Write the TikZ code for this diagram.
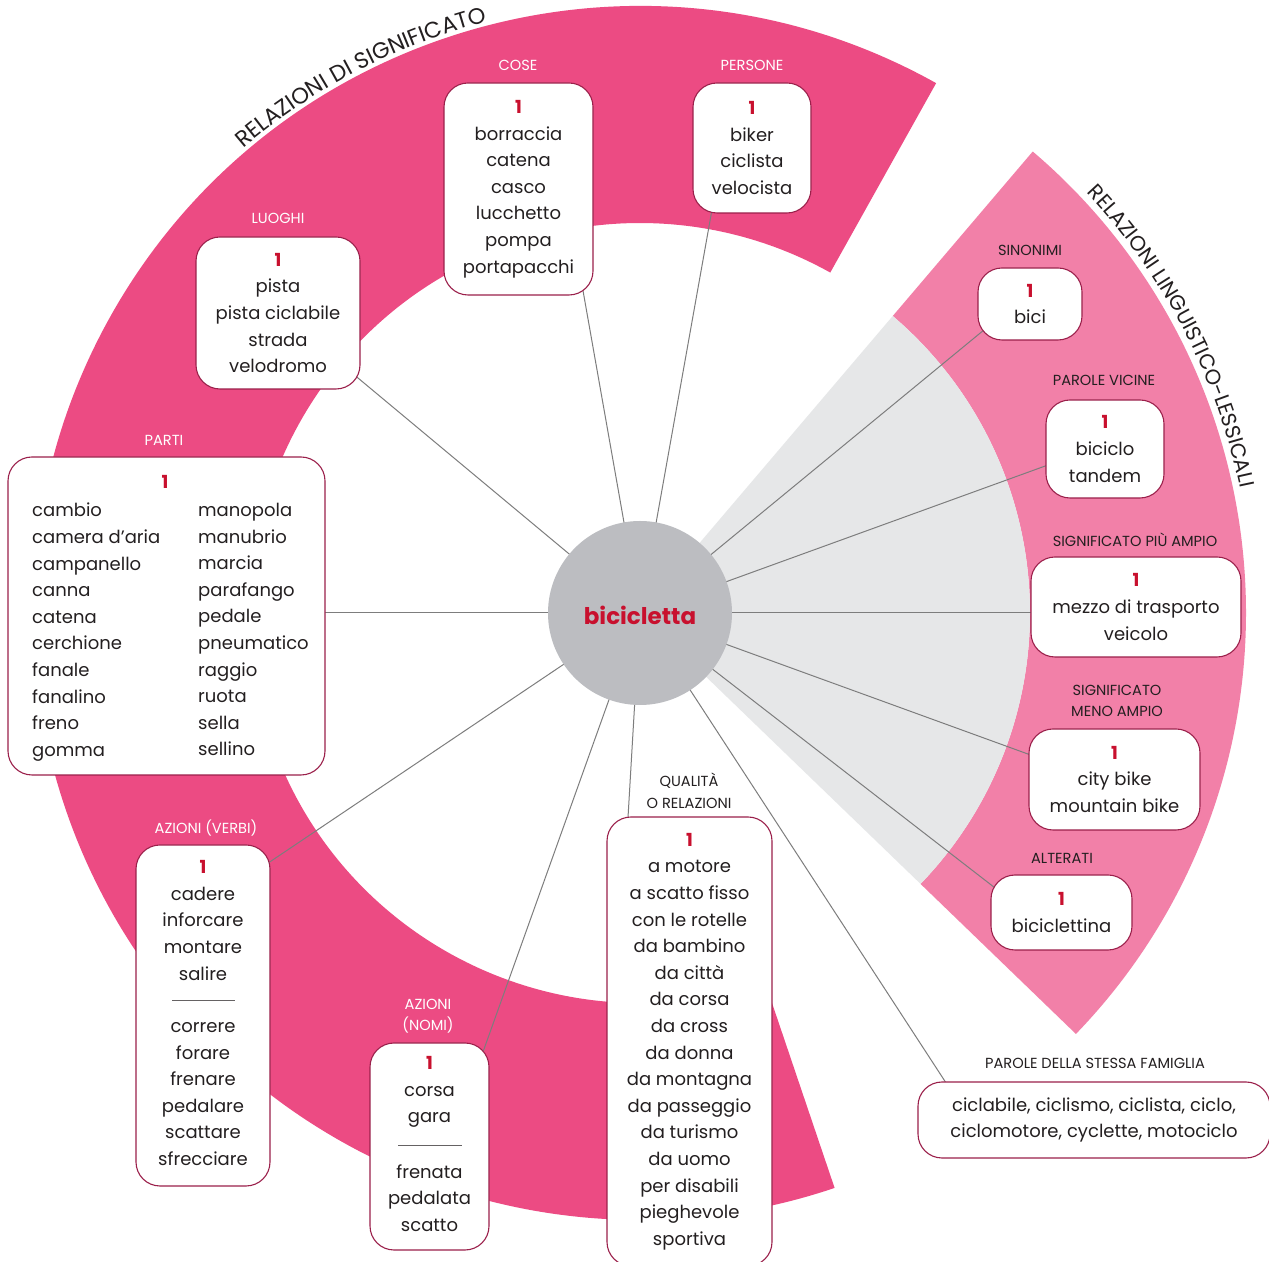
\documentclass[tikz,border=0pt]{standalone}
\usepackage{fontspec}
\setmainfont{Poppins}
\usetikzlibrary{decorations.text}
\definecolor{dpink}{RGB}{236,75,131}
\definecolor{lpink}{RGB}{242,128,168}
\definecolor{lgrey}{RGB}{230,231,232}
\definecolor{cgrey}{RGB}{188,189,193}
\definecolor{wred}{RGB}{200,16,46}
\definecolor{bord}{RGB}{155,32,75}
\definecolor{txt}{RGB}{35,31,32}
\definecolor{lnk}{RGB}{125,125,125}
\pgfdeclarelayer{sectors}
\pgfdeclarelayer{links}
\pgfsetlayers{sectors,links,main}
\newcommand\nummark{\textcolor{wred}{\bfseries 1}}
\begin{document}
\begin{tikzpicture}[x=1pt,y=1pt,
  box/.style={draw=bord, fill=white, line width=1.1pt, rounded corners=24pt, align=center, inner sep=0pt, text=txt, font=\fontsize{18}{26.6}\selectfont},
  words/.style={align=center, inner sep=0pt, text=txt, font=\fontsize{18}{26.6}\selectfont},
  cat/.style={align=center, inner sep=0pt, font=\fontsize{14.6}{21.5}\selectfont},
  catw/.style={cat, text=white},
  catd/.style={cat, text=txt},
  link/.style={draw=lnk, line width=1pt},
  sepline/.style={draw=txt!70, line width=0.8pt}
]
\useasboundingbox (0,0) rectangle (1269,1261);

% sectors
\begin{pgfonlayer}{sectors}
\fill[white] (0,0) rectangle (1269,1261);
\begin{scope}[shift={(640,648)}]
\fill[dpink] (60.8:607) arc[start angle=60.8,end angle=288.7,radius=607] -- (288.7:390) arc[start angle=288.7,end angle=60.8,radius=390] -- cycle;
\fill[lpink] (-44:606) arc[start angle=-44,end angle=49.6,radius=606] -- (49.6:390) arc[start angle=49.6,end angle=-44,radius=390] -- cycle;
\fill[lgrey] (0,0) -- (-44:390) arc[start angle=-44,end angle=49.6,radius=390] -- cycle;
\path[decorate,decoration={text along path,text align=center,text color=txt,text={|\fontsize{22.5}{22.5}\selectfont|RELAZIONI DI SIGNIFICATO}}] (140:611) arc[start angle=140,end angle=95,radius=611];
\path[decorate,decoration={text along path,text align=center,text color=txt,text={|\fontsize{21}{21}\selectfont|RELAZIONI LINGUISTICO-LESSICALI}}] (58:613) arc[start angle=58,end angle=-3,radius=613];
\end{scope}
\end{pgfonlayer}

% centre
\node[circle, fill=cgrey, minimum size=184pt, inner sep=0pt] (c) at (640,648) {};
\node[text=wred, font=\fontsize{23}{23}\selectfont\bfseries] (ct) at (640,646) {bicicletta};

% link end points
\coordinate (e-cose) at (582,976);
\coordinate (e-pers) at (713,1057);
\coordinate (e-luog) at (352,888);
\coordinate (e-parti) at (320,648);
\coordinate (e-verbi) at (263,394.5);
\coordinate (e-nomi) at (481,203.5);
\coordinate (e-qual) at (627.5,435);
\coordinate (e-fam) at (950,172);
\coordinate (e-sin) at (990,936);
\coordinate (e-vic) at (1053.5,798);
\coordinate (e-piu) at (1036,648);
\coordinate (e-meno) at (1037.5,503.5);
\coordinate (e-alt) at (999,370);

\begin{pgfonlayer}{links}
\foreach \e in {e-cose,e-pers,e-luog,e-parti,e-verbi,e-nomi,e-qual,e-fam,e-sin,e-vic,e-piu,e-meno,e-alt}
  \draw[link] (c.center) -- (\e);
\end{pgfonlayer}

% boxes
\node[box, minimum width=149pt, minimum height=212pt] (cose) at (518.5,1072) {\nummark\\borraccia\\catena\\casco\\lucchetto\\pompa\\portapacchi};
\node[box, minimum width=118pt, minimum height=130pt] (pers) at (752,1113) {\nummark\\biker\\ciclista\\velocista};
\node[box, minimum width=164pt, minimum height=152pt] (luog) at (278,948) {\nummark\\pista\\pista ciclabile\\strada\\velodromo};

\node[box, minimum width=317pt, minimum height=318pt] (parti) at (166.5,645) {};
\node[text=wred, font=\fontsize{18}{26.6}\selectfont\bfseries, inner sep=0pt] (parti1) at (165,779) {1};
\node[words, anchor=north west, align=left] (partiL) at (32,758) {cambio\\camera d’aria\\campanello\\canna\\catena\\cerchione\\fanale\\fanalino\\freno\\gomma};
\node[words, anchor=north west, align=left] (partiR) at (198,758) {manopola\\manubrio\\marcia\\parafango\\pedale\\pneumatico\\raggio\\ruota\\sella\\sellino};

\node[box, minimum width=134pt, minimum height=341pt] (verbi) at (203,245.5) {};
\node[words] (verbiA) at (203,340.5) {\nummark\\cadere\\inforcare\\montare\\salire};
\draw[sepline] (172,261) -- (235,261);
\node[words] (verbiB) at (203,167) {correre\\forare\\frenare\\pedalare\\scattare\\sfrecciare};

\node[box, minimum width=119pt, minimum height=207pt] (nomi) at (429.5,114.5) {};
\node[words] (nomiA) at (429.5,169) {\nummark\\corsa\\gara};
\draw[sepline] (398,116) -- (462,116);
\node[words] (nomiB) at (429.5,63) {frenata\\pedalata\\scatto};

\node[box, minimum width=165pt, minimum height=449pt] (qual) at (689.5,219.5) {\nummark\\a motore\\a scatto fisso\\con le rotelle\\da bambino\\da città\\da corsa\\da cross\\da donna\\da montagna\\da passeggio\\da turismo\\da uomo\\per disabili\\pieghevole\\sportiva};

\node[box, minimum width=104pt, minimum height=72pt] (sin) at (1030,957) {\nummark\\bici};
\node[box, minimum width=118pt, minimum height=98pt] (vic) at (1105,812) {\nummark\\biciclo\\tandem};
\node[box, minimum width=210pt, minimum height=100pt] (piu) at (1136,654) {\nummark\\mezzo di trasporto\\veicolo};
\node[box, minimum width=171pt, minimum height=101pt] (meno) at (1114.5,481.5) {\nummark\\city bike\\mountain bike};
\node[box, minimum width=141pt, minimum height=75pt] (alt) at (1061.5,348.5) {\nummark\\biciclettina};
\node[box, minimum width=352pt, minimum height=76pt] (fam) at (1094,141) {ciclabile, ciclismo, ciclista, ciclo,\\ciclomotore, cyclette, motociclo};

% category labels
\node[catw] (lcose) at (518,1196) {COSE};
\node[catw] (lpers) at (752,1196) {PERSONE};
\node[catw] (lluog) at (278,1043) {LUOGHI};
\node[catw] (lparti) at (164,821) {PARTI};
\node[catw] (lverbi) at (206,433) {AZIONI (VERBI)};
\node[catw] (lnomi) at (428,245) {AZIONI\\(NOMI)};
\node[catd] (lqual) at (689,470) {QUALITÀ\\O RELAZIONI};
\node[catd] (lsin) at (1030,1011) {SINONIMI};
\node[catd] (lvic) at (1104,881) {PAROLE VICINE};
\node[catd] (lpiu) at (1135,721) {SIGNIFICATO PIÙ AMPIO};
\node[catd] (lmeno) at (1117,560) {SIGNIFICATO\\MENO AMPIO};
\node[catd] (lalt) at (1062,403) {ALTERATI};
\node[catd] (lfam) at (1095,198) {PAROLE DELLA STESSA FAMIGLIA};
\end{tikzpicture}
\end{document}
